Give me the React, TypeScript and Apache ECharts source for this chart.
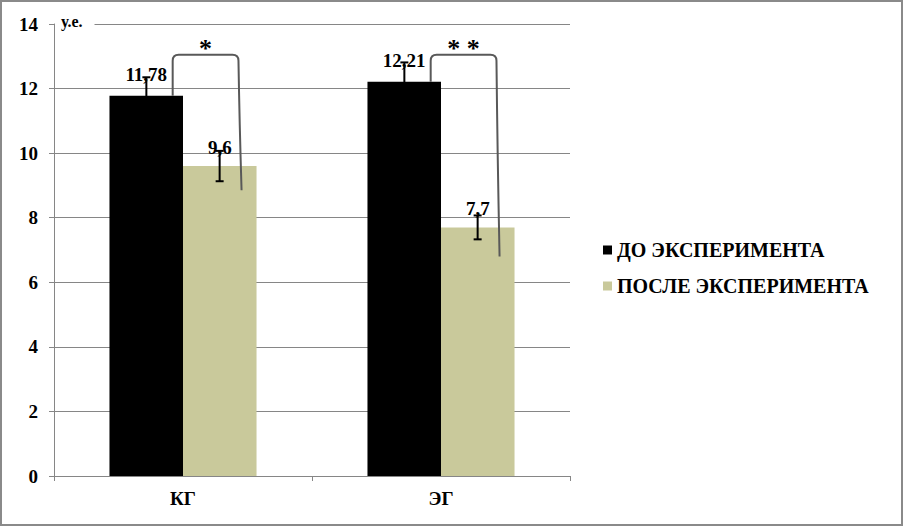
import React, { useEffect, useRef } from 'react';
import * as echarts from 'echarts';

const groups = ['КГ', 'ЭГ'];
const seriesNames = ['ДО ЭКСПЕРИМЕНТА', 'ПОСЛЕ ЭКСПЕРИМЕНТА'];
const beforeValues = [11.78, 12.21];
const afterValues = [9.6, 7.7];
const beforeErrors = [0.57, 0.6];
const afterErrors = [0.47, 0.37];
// [group index, left leg start, bracket top, right leg end]
const brackets = [
  [0, 11.78, 13.05, 8.85],
  [1, 12.21, 13.05, 6.8],
];
const bracketMarks = ['*', '* *'];
const yTicks = [0, 2, 4, 6, 8, 10, 12, 14];

const FONT = "'Liberation Serif', 'Times New Roman', serif";
const GRAY = '#868686';
const GREEN = '#c9c99b';

const App: React.FC = () => {
  const chartRef = useRef<HTMLDivElement>(null);

  useEffect(() => {
    document.body.style.margin = '0';
    const chart = echarts.init(chartRef.current, null, { renderer: 'svg' });

    const fmt = (v: number) => String(v).replace('.', ',');

    const errorSeries = (name: string, values: number[], errors: number[], shift: number) => ({
      type: 'custom',
      name: name + ' err',
      z: 5,
      silent: true,
      encode: { x: 0, y: 1 },
      data: values.map((v, i) => [i, v, errors[i]]),
      renderItem: (params: any, api: any) => {
        const idx = api.value(0);
        const v = api.value(1);
        const e = api.value(2);
        const band = api.size([1, 0])[0];
        const hi = api.coord([idx, v + e]);
        const lo = api.coord([idx, v - e]);
        const x = hi[0] + shift * band;
        const style = { stroke: '#000', lineWidth: 2 };
        return {
          type: 'group',
          children: [
            { type: 'line', shape: { x1: x, y1: hi[1], x2: x, y2: lo[1] }, style },
            { type: 'line', shape: { x1: x - 4, y1: hi[1], x2: x + 4, y2: hi[1] }, style },
            { type: 'line', shape: { x1: x - 4, y1: lo[1], x2: x + 4, y2: lo[1] }, style },
          ],
        };
      },
    });

    const barLabel = (distance: number) => ({
      show: true,
      position: 'top',
      distance,
      formatter: (p: any) => fmt(p.value),
      fontFamily: FONT,
      fontWeight: 'bold',
      fontSize: 19,
      color: '#000',
    });

    const option = {
      animation: false,
      textStyle: { fontFamily: FONT },
      grid: { left: 52, right: 331, top: 22, bottom: 48 },
      legend: {
        orient: 'vertical',
        left: 596,
        top: 233,
        itemWidth: 9,
        itemHeight: 9,
        itemGap: 16,
        icon: 'rect',
        data: seriesNames,
        textStyle: { fontFamily: FONT, fontWeight: 'bold', fontSize: 20, color: '#000' },
      },
      xAxis: {
        type: 'category',
        data: groups,
        axisLine: { lineStyle: { color: GRAY } },
        axisTick: { show: true, length: 5, lineStyle: { color: GRAY } },
        axisLabel: { fontFamily: FONT, fontWeight: 'bold', fontSize: 19, color: '#000', margin: 13 },
      },
      yAxis: {
        type: 'value',
        min: 0,
        max: 14,
        interval: 2,
        name: 'у.е.',
        nameLocation: 'end',
        nameGap: 3,
        nameTextStyle: {
          fontFamily: FONT,
          fontWeight: 'bold',
          fontSize: 16,
          color: '#000',
          align: 'left',
          verticalAlign: 'middle',
          backgroundColor: '#fff',
          padding: [0, 12, 2, 7],
        },
        axisLine: { show: true, lineStyle: { color: GRAY } },
        axisTick: { show: true, length: 5, lineStyle: { color: GRAY } },
        splitLine: { lineStyle: { color: GRAY } },
        axisLabel: {
          fontFamily: FONT,
          fontWeight: 'bold',
          fontSize: 19,
          color: '#000',
          margin: 16,
          formatter: (v: number) => (yTicks.includes(v) ? String(v) : ''),
        },
      },
      series: [
        {
          type: 'bar',
          name: seriesNames[0],
          data: beforeValues,
          barGap: '0%',
          barCategoryGap: '43%',
          itemStyle: { color: '#000' },
          label: barLabel(12),
        },
        {
          type: 'bar',
          name: seriesNames[1],
          data: afterValues,
          itemStyle: { color: GREEN },
          label: barLabel(9),
        },
        errorSeries(seriesNames[0], beforeValues, beforeErrors, -0.142),
        errorSeries(seriesNames[1], afterValues, afterErrors, 0.142),
        {
          type: 'custom',
          name: 'brackets',
          z: 6,
          silent: true,
          encode: { x: 0, y: 2 },
          data: brackets,
          renderItem: (params: any, api: any) => {
            const idx = api.value(0);
            const band = api.size([1, 0])[0];
            const start = api.coord([idx, api.value(1)]);
            const top = api.coord([idx, api.value(2)]);
            const end = api.coord([idx, api.value(3)]);
            const xl = top[0] - 0.04 * band;
            const xr = top[0] + 0.215 * band;
            const xe = xr + 0.012 * band;
            const r = 6;
            const yt = top[1];
            const d =
              `M${xl},${start[1]} L${xl},${yt + r} Q${xl},${yt} ${xl + r},${yt} ` +
              `L${xr - r},${yt} Q${xr},${yt} ${xr},${yt + r} Q${xr + 1},${(yt + end[1]) / 2} ${xe},${end[1]}`;
            return {
              type: 'group',
              children: [
                {
                  type: 'path',
                  shape: { pathData: d },
                  style: { fill: 'none', stroke: '#595959', lineWidth: 2 },
                },
                {
                  type: 'text',
                  x: (xl + xr) / 2,
                  y: yt - 6,
                  style: {
                    text: bracketMarks[params.dataIndex],
                    fontFamily: FONT,
                    fontWeight: 'bold',
                    fontSize: 26,
                    fill: '#000',
                    align: 'center',
                    verticalAlign: 'middle',
                  },
                },
              ],
            };
          },
        },
      ],
    };

    chart.setOption(option);

    return () => {
      chart.dispose();
    };
  }, []);

  return (
    <div
      ref={chartRef}
      style={{ width: '903px', height: '526px', boxSizing: 'border-box', border: '2px solid #8a8a8a', background: '#fff' }}
    />
  );
};

export default App;
